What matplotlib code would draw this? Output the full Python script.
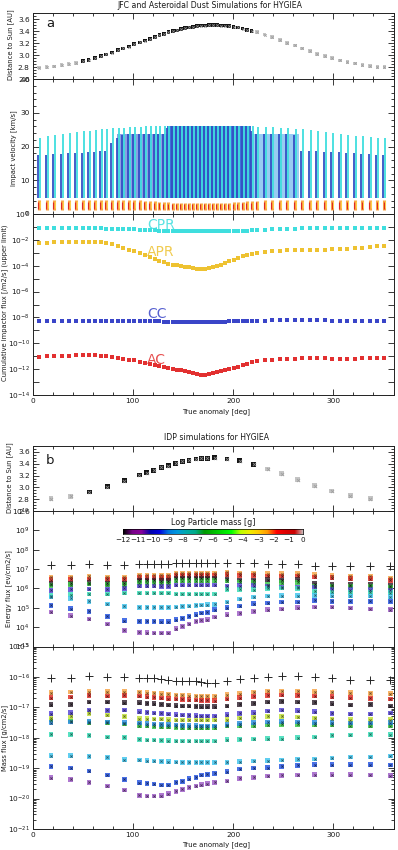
import numpy as np
import matplotlib
matplotlib.use('Agg')
import matplotlib.pyplot as plt
import matplotlib.colors as mc
from matplotlib.ticker import MultipleLocator, FixedLocator, FuncFormatter, NullFormatter, LogLocator

plt.rcParams['font.family'] = ['DejaVu Sans']
plt.rcParams['mathtext.fontset'] = 'dejavusans'

# ---------------- Panel a data (JFC / asteroidal) ----------------
X_A = [6.5, 14, 21.5, 29, 36, 43.5,
       50.5, 56, 62, 68, 73.5, 79, 85, 90.5, 96, 101.5,
       107, 112, 117, 122, 126.5, 131, 135.5, 140, 144, 148,
       152, 156, 160, 164, 168, 172, 176, 180, 184, 188,
       192, 196, 200.5, 205, 209.5, 214, 218.5,
       224, 231.5, 239, 246.5, 254, 261.5, 269, 276.5, 284, 291.5,
       299, 306.5, 314, 321.5, 329, 336.5, 344, 351]
DIST_A = [2.79, 2.80, 2.81, 2.83, 2.85, 2.87,
          2.90, 2.92, 2.95, 2.98, 3.01, 3.04, 3.08, 3.11, 3.14, 3.18,
          3.21, 3.24, 3.27, 3.30, 3.33, 3.35, 3.38, 3.40, 3.41, 3.43,
          3.45, 3.46, 3.47, 3.48, 3.49, 3.49, 3.50, 3.50, 3.50, 3.49,
          3.49, 3.48, 3.47, 3.46, 3.44, 3.42, 3.40,
          3.38, 3.34, 3.30, 3.25, 3.20, 3.16, 3.11, 3.07, 3.02, 2.98,
          2.95, 2.91, 2.88, 2.86, 2.83, 2.82, 2.80, 2.80]
DIST_A_KIND = "gggggg" "kkkkkkkkkk" "kkkkkkkkkk" "kkkkkkkkkk" "kkkkkkk" "gggggggggg" "gggggggg"

V_CPR_TOP = [22.6, 23.0, 23.3, 23.6, 23.9, 24.2,
             24.5, 24.7, 24.9, 25.1, 25.2, 25.4, 25.5, 25.6, 25.7, 25.8,
             25.9, 26.0, 26.0, 26.1, 26.1, 26.1, 26.1, 26.2, 26.2, 26.2,
             26.2, 26.2, 26.2, 26.2, 26.2, 26.2, 26.2, 26.2, 26.2, 26.2,
             26.2, 26.2, 26.1, 26.1, 26.1, 26.0, 26.0,
             25.9, 25.8, 25.7, 25.6, 25.5, 25.3, 25.1, 24.9, 24.7, 24.4,
             24.1, 23.8, 23.5, 23.2, 23.0, 22.8, 22.6, 22.5]
V_CC_TOP = [17.4, 17.6, 17.8, 17.9, 18.0, 18.1,
            18.2, 18.3, 18.5, 18.6, 18.7, 21.0, 22.5, 23.3, 23.6, 23.6,
            23.6, 23.6, 23.6, 23.6, 23.6, 23.6, 25.5, 26.0, 26.0, 26.0,
            26.0, 26.0, 26.0, 26.0, 26.0, 26.0, 26.0, 26.0, 26.0, 26.0,
            26.0, 26.0, 26.0, 26.0, 26.0, 26.0, 24.5,
            23.6, 23.6, 23.6, 23.6, 23.6, 23.5, 18.7, 18.6, 18.6, 18.5,
            18.4, 18.3, 18.2, 18.0, 17.9, 17.8, 17.6, 17.5]
V_AST_TOP = [4.2, 4.2, 4.2, 4.2, 4.2, 4.2,
             4.2, 4.2, 4.2, 4.2, 4.2, 4.2, 4.2, 4.2, 4.2, 4.2,
             4.2, 4.0, 3.9, 3.8, 3.7, 3.6, 3.5, 3.4, 3.4, 3.4,
             3.4, 3.4, 3.4, 3.4, 3.4, 3.4, 3.4, 3.4, 3.4, 3.4,
             3.4, 3.4, 3.5, 3.6, 3.7, 3.8, 3.9,
             4.0, 4.1, 4.2, 4.2, 4.2, 4.2, 4.2, 4.2, 4.2, 4.2,
             4.2, 4.2, 4.2, 4.2, 4.2, 4.2, 4.2, 4.2]
V_COMET_BOTTOM = 4.6
V_AST_BOTTOM = 1.2
# shaded velocity bands (start deg, end deg, top km/s)
VBAND_START = [84, 134, 218]
VBAND_END = [134, 218, 266]
VBAND_TOP = [23.6, 26.0, 23.6]

CPR_LOG = [-1.08, -1.08, -1.08, -1.09, -1.09, -1.10,
           -1.10, -1.11, -1.12, -1.12, -1.13, -1.14, -1.15, -1.16, -1.17, -1.18,
           -1.20, -1.22, -1.24, -1.26, -1.28, -1.30, -1.32, -1.33, -1.34, -1.35,
           -1.35, -1.35, -1.35, -1.35, -1.35, -1.35, -1.35, -1.35, -1.35, -1.34,
           -1.34, -1.33, -1.32, -1.31, -1.30, -1.28, -1.26,
           -1.24, -1.21, -1.19, -1.17, -1.15, -1.13, -1.12, -1.11, -1.10, -1.10,
           -1.09, -1.09, -1.08, -1.08, -1.08, -1.08, -1.08, -1.08]
APR_LOG = [-2.28, -2.25, -2.20, -2.17, -2.14, -2.13,
           -2.13, -2.14, -2.15, -2.18, -2.25, -2.33, -2.48, -2.60, -2.75, -2.90,
           -3.05, -3.20, -3.33, -3.48, -3.62, -3.75, -3.84, -3.92, -3.98, -4.03,
           -4.08, -4.13, -4.18, -4.22, -4.26, -4.26, -4.20, -4.12, -4.05, -3.92,
           -3.80, -3.65, -3.52, -3.40, -3.27, -3.17, -3.10,
           -3.02, -2.95, -2.89, -2.84, -2.82, -2.80, -2.79, -2.78, -2.77, -2.76,
           -2.74, -2.72, -2.68, -2.64, -2.60, -2.55, -2.49, -2.44]
CC_LOG = [-8.27, -8.27, -8.26, -8.26, -8.25, -8.25,
          -8.25, -8.25, -8.24, -8.24, -8.24, -8.24, -8.24, -8.25, -8.25, -8.26,
          -8.27, -8.28, -8.29, -8.30, -8.31, -8.32, -8.33, -8.34, -8.35, -8.36,
          -8.36, -8.37, -8.37, -8.37, -8.37, -8.37, -8.36, -8.35, -8.34, -8.33,
          -8.32, -8.31, -8.30, -8.29, -8.28, -8.27, -8.26,
          -8.25, -8.24, -8.23, -8.22, -8.22, -8.22, -8.22, -8.22, -8.23, -8.23,
          -8.24, -8.24, -8.25, -8.25, -8.26, -8.26, -8.27, -8.27]
AC_LOG = [-11.04, -11.02, -11.00, -10.98, -10.96, -10.94,
          -10.92, -10.91, -10.92, -10.95, -10.98, -11.03, -11.12, -11.20, -11.27, -11.33,
          -11.42, -11.50, -11.58, -11.66, -11.74, -11.82, -11.90, -11.97, -12.03, -12.10,
          -12.17, -12.25, -12.32, -12.38, -12.43, -12.43, -12.38, -12.30, -12.24, -12.15,
          -12.07, -11.98, -11.90, -11.80, -11.68, -11.58, -11.48,
          -11.40, -11.33, -11.28, -11.25, -11.23, -11.20, -11.17, -11.12, -11.13, -11.15,
          -11.20, -11.20, -11.19, -11.18, -11.17, -11.17, -11.16, -11.16]
POP_NAMES = ['CPR', 'APR', 'CC', 'AC']
POP_LABEL_X = 114
POP_LABEL_Y = [1.35e-1, 1.2e-3, 1.8e-8, 5e-12]

# ---------------- Panel b data (IDP) ----------------
X_B = [18.5, 38, 56.5, 74.5, 91.5, 106.5, 114, 121, 128.5, 135.5,
       143, 149.5, 156, 163, 168.5, 174.5, 181.5, 194, 206.5, 220.5,
       234.5, 248.5, 264.5, 281.5, 298.5, 317, 337, 357]
DIST_B = [2.81, 2.85, 2.92, 3.01, 3.11, 3.21, 3.25, 3.29, 3.34, 3.37,
          3.41, 3.44, 3.46, 3.48, 3.49, 3.49, 3.50, 3.48, 3.45, 3.39,
          3.31, 3.23, 3.13, 3.03, 2.94, 2.86, 2.81]
DIST_B_KIND = "gg" "kkkkkkkkkkkkkkkkkk" "ggggggg"

MASS_BINS = ['orange', 'red', 'black', 'green', 'ygreen', 'bluepurple', 'bluecyan', 'teal', 'cyan', 'blue', 'purple']

E_TOTAL_LOG = [7.19, 7.23, 7.24, 7.23, 7.23, 7.26, 7.26, 7.26, 7.25, 7.25,
               7.31, 7.31, 7.31, 7.31, 7.31, 7.31, 7.31, 7.33, 7.32, 7.31,
               7.27, 7.27, 7.27, 7.18, 7.18, 7.18, 7.17, 7.16]
E_LOG = {
    'orange': [6.59, 6.60, 6.62, 6.60, 6.60, 6.69, 6.69, 6.69, 6.68, 6.68,
               6.79, 6.79, 6.79, 6.79, 6.79, 6.79, 6.79, 6.83, 6.80, 6.79,
               6.76, 6.76, 6.76, 6.71, 6.66, 6.62, 6.62, 6.53],
    'red': [6.46, 6.47, 6.49, 6.47, 6.47, 6.56, 6.56, 6.56, 6.55, 6.55,
            6.67, 6.67, 6.67, 6.67, 6.67, 6.67, 6.67, 6.71, 6.68, 6.67,
            6.65, 6.64, 6.65, 6.60, 6.55, 6.50, 6.50, 6.42],
    'black': [6.24, 6.27, 6.30, 6.27, 6.28, 6.41, 6.41, 6.41, 6.40, 6.40,
              6.53, 6.53, 6.53, 6.53, 6.53, 6.53, 6.53, 6.48, 6.44, 6.41,
              6.45, 6.41, 6.45, 6.24, 6.20, 6.20, 6.20, 6.15],
    'green': [6.16, 6.19, 6.22, 6.19, 6.20, 6.30, 6.30, 6.30, 6.29, 6.29,
              6.40, 6.40, 6.40, 6.40, 6.40, 6.40, 6.40, 6.38, 6.34, 6.30,
              6.19, 6.30, 6.32, 6.12, 6.10, 6.10, 6.10, 6.05],
    'bluepurple': [5.90, 5.95, 5.98, 5.95, 6.00, 6.12, 6.12, 6.12, 6.11, 6.11,
                   6.17, 6.17, 6.17, 6.17, 6.17, 6.17, 6.17, 6.12, 6.14, 6.15,
                   6.10, 6.08, 6.08, 6.07, 5.97, 5.93, 5.93, 5.90],
    'teal': [5.62, 5.68, 5.71, 5.71, 5.76, 5.76, 5.76, 5.76, 5.76, 5.76,
             5.72, 5.72, 5.72, 5.72, 5.72, 5.72, 5.72, 5.95, 5.95, 5.93,
             6.00, 6.02, 6.00, 5.85, 5.82, 5.80, 5.80, 5.78],
    'cyan': [5.55, 5.48, 5.33, 5.20, 5.07, 5.02, 5.02, 5.02, 5.02, 5.02,
             5.05, 5.08, 5.10, 5.13, 5.15, 5.16, 5.18, 5.30, 5.45, 5.55,
             5.60, 5.62, 5.62, 5.65, 5.62, 5.60, 5.60, 5.58],
    'blue': [5.12, 4.95, 4.81, 4.55, 4.33, 4.30, 4.30, 4.30, 4.28, 4.28,
             4.39, 4.45, 4.56, 4.64, 4.73, 4.76, 4.90, 5.00, 5.10, 5.21,
             5.24, 5.30, 5.30, 5.38, 5.33, 5.33, 5.33, 5.33],
    'purple': [4.78, 4.59, 4.42, 4.17, 3.84, 3.73, 3.72, 3.70, 3.70, 3.70,
               3.92, 4.04, 4.16, 4.30, 4.35, 4.39, 4.53, 4.64, 4.72, 4.81,
               4.90, 4.93, 5.00, 5.04, 5.04, 4.98, 4.93, 4.90],
}

M_TOTAL_LOG = [-16.05, -16.04, -15.98, -16.00, -16.00, -16.04, -16.05, -16.05, -16.07, -16.10,
               -16.12, -16.12, -16.13, -16.15, -16.18, -16.19, -16.19, -16.12, -16.08, -16.05,
               -16.00, -15.98, -15.98, -16.00, -16.05, -16.10, -16.10, -16.10]
M_LOG = {
    'orange': [-16.52, -16.50, -16.48, -16.48, -16.48, -16.50, -16.52, -16.53, -16.55, -16.57,
               -16.60, -16.60, -16.62, -16.63, -16.64, -16.64, -16.64, -16.58, -16.55, -16.50,
               -16.47, -16.46, -16.47, -16.48, -16.50, -16.52, -16.54, -16.55],
    'red': [-16.68, -16.66, -16.61, -16.63, -16.61, -16.63, -16.65, -16.67, -16.69, -16.71,
            -16.73, -16.74, -16.75, -16.76, -16.77, -16.77, -16.78, -16.72, -16.68, -16.64,
            -16.61, -16.60, -16.61, -16.63, -16.65, -16.68, -16.70, -16.72],
    'black': [-16.91, -16.90, -16.83, -16.83, -16.85, -16.85, -16.87, -16.88, -16.90, -16.92,
              -16.94, -16.95, -16.96, -16.97, -16.98, -16.98, -16.98, -16.95, -16.90, -16.87,
              -16.83, -16.80, -16.82, -16.84, -16.88, -16.92, -16.90, -16.95],
    'bluepurple': [-17.21, -17.17, -17.09, -17.10, -17.09, -17.14, -17.16, -17.18, -17.20, -17.22,
                   -17.24, -17.25, -17.26, -17.27, -17.28, -17.28, -17.28, -17.24, -17.20, -17.17,
                   -17.12, -17.09, -17.11, -17.14, -17.20, -17.22, -17.22, -17.18],
    'ygreen': [-17.35, -17.30, -17.20, -17.25, -17.30, -17.37, -17.37, -17.38, -17.38, -17.40,
               -17.42, -17.42, -17.42, -17.42, -17.42, -17.42, -17.42, -17.40, -17.35, -17.33,
               -17.30, -17.30, -17.32, -17.35, -17.38, -17.40, -17.40, -17.40],
    'green': [-17.42, -17.45, -17.50, -17.50, -17.55, -17.60, -17.62, -17.63, -17.64, -17.65,
              -17.66, -17.67, -17.67, -17.67, -17.67, -17.67, -17.67, -17.62, -17.60, -17.60,
              -17.58, -17.56, -17.56, -17.57, -17.58, -17.60, -17.60, -17.60],
    'bluecyan': [-17.50, -17.48, -17.47, -17.48, -17.50, -17.52, -17.54, -17.55, -17.56, -17.57,
                 -17.58, -17.59, -17.60, -17.60, -17.61, -17.61, -17.61, -17.57, -17.54, -17.50,
                 -17.48, -17.47, -17.48, -17.50, -17.50, -17.52, -17.52, -17.50],
    'teal': [-17.89, -17.89, -17.92, -17.97, -17.99, -18.05, -18.07, -18.08, -18.09, -18.10,
             -18.11, -18.11, -18.11, -18.11, -18.11, -18.11, -18.11, -18.06, -18.05, -18.04,
             -18.03, -18.03, -18.00, -17.98, -17.92, -17.91, -17.89, -17.90],
    'cyan': [-18.59, -18.59, -18.61, -18.64, -18.72, -18.73, -18.75, -18.77, -18.78, -18.79,
             -18.80, -18.81, -18.81, -18.81, -18.81, -18.81, -18.81, -18.81, -18.79, -18.77,
             -18.75, -18.73, -18.71, -18.70, -18.66, -18.63, -18.63, -18.60],
    'blue': [-18.94, -19.00, -19.09, -19.22, -19.37, -19.48, -19.50, -19.52, -19.55, -19.55,
             -19.47, -19.43, -19.34, -19.30, -19.23, -19.20, -19.17, -19.11, -19.03, -19.00,
             -18.98, -18.94, -18.91, -18.88, -18.88, -18.88, -18.88, -18.90],
    'purple': [-19.31, -19.37, -19.47, -19.58, -19.72, -19.89, -19.92, -19.91, -19.90, -19.84,
               -19.76, -19.70, -19.63, -19.59, -19.54, -19.51, -19.47, -19.42, -19.33, -19.30,
               -19.26, -19.24, -19.22, -19.21, -19.21, -19.21, -19.23, -19.25],
}
CBAR_TICKS = [-12, -11, -10, -9, -8, -7, -6, -5, -4, -3, -2, -1, 0]

# ---------------- styles ----------------
POP_COLORS = {'CPR': '#3fdede', 'APR': '#eec231', 'CC': '#3a45c8', 'AC': '#e23030'}
BIN_COLORS = {'orange': '#f7a74c', 'red': '#e2332d', 'black': '#3a2c38', 'green': '#3cc84a',
              'ygreen': '#c4e23c', 'bluepurple': '#5a4ad8', 'bluecyan': '#2f8fe0',
              'teal': '#3cdcb8', 'cyan': '#44c6ee', 'blue': '#2a58e2', 'purple': '#a060c8'}
VBAND_COLORS = ['#8a9fe4', '#3a72d8', '#98ccf2']
TXT = '#1a1a1a'

W, H = 398, 850
fig = plt.figure(figsize=(W / 100, H / 100), dpi=100)
L_PX, R_PX = 32.5, 393.5


def add_ax(top_px, bot_px):
    return fig.add_axes([L_PX / W, 1 - bot_px / H, (R_PX - L_PX) / W, (bot_px - top_px) / H])


def base_style(ax, xlabels=False):
    ax.set_xlim(0, 360)
    ax.xaxis.set_major_locator(MultipleLocator(100))
    ax.xaxis.set_minor_locator(MultipleLocator(20))
    ax.tick_params(which='both', direction='in', top=True, right=True, labelsize=5.3,
                   width=0.6, colors=TXT, pad=2)
    ax.tick_params(which='major', length=4.5)
    ax.tick_params(which='minor', length=2.3)
    if not xlabels:
        ax.tick_params(labelbottom=False)
    for s in ax.spines.values():
        s.set_linewidth(0.7)
        s.set_color('#222222')


def log_fmt(every=1):
    def f(v, p):
        e = int(round(np.log10(v)))
        if e % every:
            return ''
        return r'$10^{%d}$' % e
    return FuncFormatter(f)


def ylab(x_px, yc_px, text):
    fig.text(x_px / W, 1 - yc_px / H, text, rotation=90, ha='center', va='center',
             fontsize=4.9, color=TXT)


def dist_panel(ax, x, d, kinds, size):
    x = np.asarray(x); d = np.asarray(d)
    kinds = np.array(list(kinds))
    g = kinds == 'g'
    k = kinds == 'k'
    ax.scatter(x[g], d[g], marker='s', s=size, c='#c4c4c4', edgecolors='none', zorder=3)
    ax.scatter(x[g], d[g], marker='x', s=size * 0.45, c='#a0a0a0', linewidths=0.6, zorder=4)
    ax.scatter(x[k], d[k], marker='s', s=size, c='#141414', edgecolors='none', zorder=3)
    ax.scatter(x[k], d[k], marker='x', s=size * 0.45, c='#8a8a8a', linewidths=0.6, zorder=4)
    ax.set_ylim(2.6, 3.7)
    ax.yaxis.set_major_locator(FixedLocator([2.6, 2.8, 3.0, 3.2, 3.4, 3.6]))
    ax.yaxis.set_major_formatter(FuncFormatter(lambda v, p: '%.1f' % v))
    ax.yaxis.set_minor_locator(MultipleLocator(0.05))


# ================= Panel a =================
ax1 = add_ax(13, 79)
base_style(ax1)
dist_panel(ax1, X_A, DIST_A, DIST_A_KIND, 7)
ax1.text(0.048, 0.84, 'a', transform=ax1.transAxes, fontsize=9.5, ha='center', va='center', color=TXT)
ylab(10.5, 45, 'Distance to Sun [AU]')
fig.text(210 / W, 1 - 6 / H, 'JFC and Asteroidal Dust Simulations for HYGIEA', ha='center', va='center',
         fontsize=5.6, color=TXT)

ax2 = add_ax(79, 214)
base_style(ax2)
xa = np.asarray(X_A)
for s, e, t, c in zip(VBAND_START, VBAND_END, VBAND_TOP, VBAND_COLORS):
    ax2.fill_between([s, e], V_COMET_BOTTOM, t, color=c, lw=0, zorder=1)
ax2.vlines(xa + 1.0, V_COMET_BOTTOM, V_CPR_TOP, colors=POP_COLORS['CPR'], linewidth=1.3, zorder=2)
ax2.vlines(xa - 1.0, V_COMET_BOTTOM, V_CC_TOP, colors='#3450c4', linewidth=1.3, zorder=3)
ax2.vlines(xa, V_AST_BOTTOM, V_AST_TOP, colors='#f9a545', linewidth=2.2, zorder=4)
ax2.vlines(xa - 0.8, V_AST_BOTTOM + 0.2, np.asarray(V_AST_TOP) - 0.5, colors='#de2a22', linewidth=0.8, zorder=5)
ax2.vlines(xa + 1.0, V_AST_BOTTOM + 0.5, np.asarray(V_AST_TOP) - 0.3, colors='#ffd84a', linewidth=0.6, zorder=5)
ax2.set_ylim(0, 40)
ax2.yaxis.set_major_locator(MultipleLocator(10))
ax2.yaxis.set_minor_locator(MultipleLocator(2))
ax2.yaxis.set_major_formatter(FuncFormatter(lambda v, p: '%d' % v))
ylab(14, 148, 'Impact velocity [km/s]')

ax3 = add_ax(214, 395)
base_style(ax3, xlabels=True)
ax3.set_yscale('log')
ax3.set_ylim(1e-14, 1e0)
for name, arr in zip(POP_NAMES, [CPR_LOG, APR_LOG, CC_LOG, AC_LOG]):
    ax3.plot(X_A, 10 ** np.asarray(arr), ls='none', marker='s', ms=2.2, mew=0,
             color=POP_COLORS[name], zorder=3)
for name, yv in zip(POP_NAMES, POP_LABEL_Y):
    ax3.text(POP_LABEL_X, yv, name, color=POP_COLORS[name], fontsize=10, ha='left', va='center',
             alpha=0.85, zorder=4)
ax3.yaxis.set_major_locator(FixedLocator([10.0 ** e for e in range(-14, 1)]))
ax3.yaxis.set_major_formatter(log_fmt(2))
ax3.yaxis.set_minor_locator(FixedLocator([]))
ax3.xaxis.set_major_formatter(FuncFormatter(lambda v, p: '%d' % v))
ylab(4.5, 303, 'Cumulative impactor flux [/m2/s] (upper limit)')
fig.text(216 / W, 1 - 412 / H, 'True anomaly [deg]', ha='center', va='center', fontsize=5.0, color=TXT)

# ================= Panel b =================
fig.text(217 / W, 1 - 438 / H, 'IDP simulations for HYGIEA', ha='center', va='center',
         fontsize=5.6, color=TXT)
bx1 = add_ax(446, 511)
base_style(bx1)
dist_panel(bx1, X_B[:len(DIST_B)], DIST_B, DIST_B_KIND, 12)
bx1.text(0.048, 0.78, 'b', transform=bx1.transAxes, fontsize=9.5, ha='center', va='center', color=TXT)
ylab(9.5, 478, 'Distance to Sun [AU]')


def darker(c, f=0.45):
    r, g, b = mc.to_rgb(c)
    return (r * f, g * f, b * f)


def bin_markers(ax, x, ylog, color):
    y = 10 ** np.asarray(ylog)
    ax.scatter(x, y, marker='s', s=11, c=color, edgecolors='none', alpha=0.85, zorder=3)
    ax.scatter(x, y, marker='x', s=2.5, c=[darker(color)], linewidths=0.6, zorder=4)


bx2 = add_ax(511, 646.5)
base_style(bx2)
bx2.set_yscale('log')
bx2.set_ylim(1e3, 1e10)
for b in MASS_BINS:
    if b in E_LOG:
        bin_markers(bx2, X_B, E_LOG[b], BIN_COLORS[b])
bx2.plot(X_B, 10 ** np.asarray(E_TOTAL_LOG), ls='none', marker='+', ms=6, mew=0.7, color='#262626', zorder=5)
bx2.yaxis.set_major_locator(FixedLocator([10.0 ** e for e in range(3, 11)]))
bx2.yaxis.set_major_formatter(log_fmt(1))
bx2.yaxis.set_minor_locator(FixedLocator([]))
ylab(8.5, 589, 'Energy flux [ev/cm2/s]')

# colour bar
cax = fig.add_axes([122.7 / W, 1 - 533.5 / H, (303.3 - 122.7) / W, 4.5 / H])
grad = np.linspace(CBAR_TICKS[0], CBAR_TICKS[-1], 256)[None, :]
cax.imshow(grad, aspect='auto', cmap='nipy_spectral', extent=(CBAR_TICKS[0], CBAR_TICKS[-1], 0, 1))
cax.set_xlim(CBAR_TICKS[0], CBAR_TICKS[-1])
cax.set_yticks([])
cax.set_xticks(CBAR_TICKS)
cax.set_xticklabels(['\u2212%d' % -t if t < 0 else '%d' % t for t in CBAR_TICKS])
cax.tick_params(axis='x', length=0, labelsize=5.2, pad=2.5, colors=TXT)
for s in cax.spines.values():
    s.set_linewidth(0.5)
fig.text(213 / W, 1 - 522.7 / H, 'Log Particle mass [g]', ha='center', va='center', fontsize=5.8, color=TXT)

bx3 = add_ax(646.5, 829)
base_style(bx3, xlabels=True)
bx3.set_yscale('log')
bx3.set_ylim(1e-21, 1e-15)
for b in MASS_BINS:
    if b in M_LOG:
        bin_markers(bx3, X_B, M_LOG[b], BIN_COLORS[b])
bx3.plot(X_B, 10 ** np.asarray(M_TOTAL_LOG), ls='none', marker='+', ms=6, mew=0.7, color='#262626', zorder=5)
bx3.yaxis.set_major_locator(FixedLocator([10.0 ** e for e in range(-21, -14)]))
bx3.yaxis.set_major_formatter(log_fmt(1))
bx3.yaxis.set_minor_locator(LogLocator(base=10, subs=np.arange(2, 10), numticks=20))
bx3.yaxis.set_minor_formatter(NullFormatter())
bx3.xaxis.set_major_formatter(FuncFormatter(lambda v, p: '%d' % v))
ylab(4.5, 738, 'Mass flux [g/cm2/s]')
fig.text(216 / W, 1 - 845 / H, 'True anomaly [deg]', ha='center', va='center', fontsize=5.0, color=TXT)

fig.savefig('out.png', dpi=100)
